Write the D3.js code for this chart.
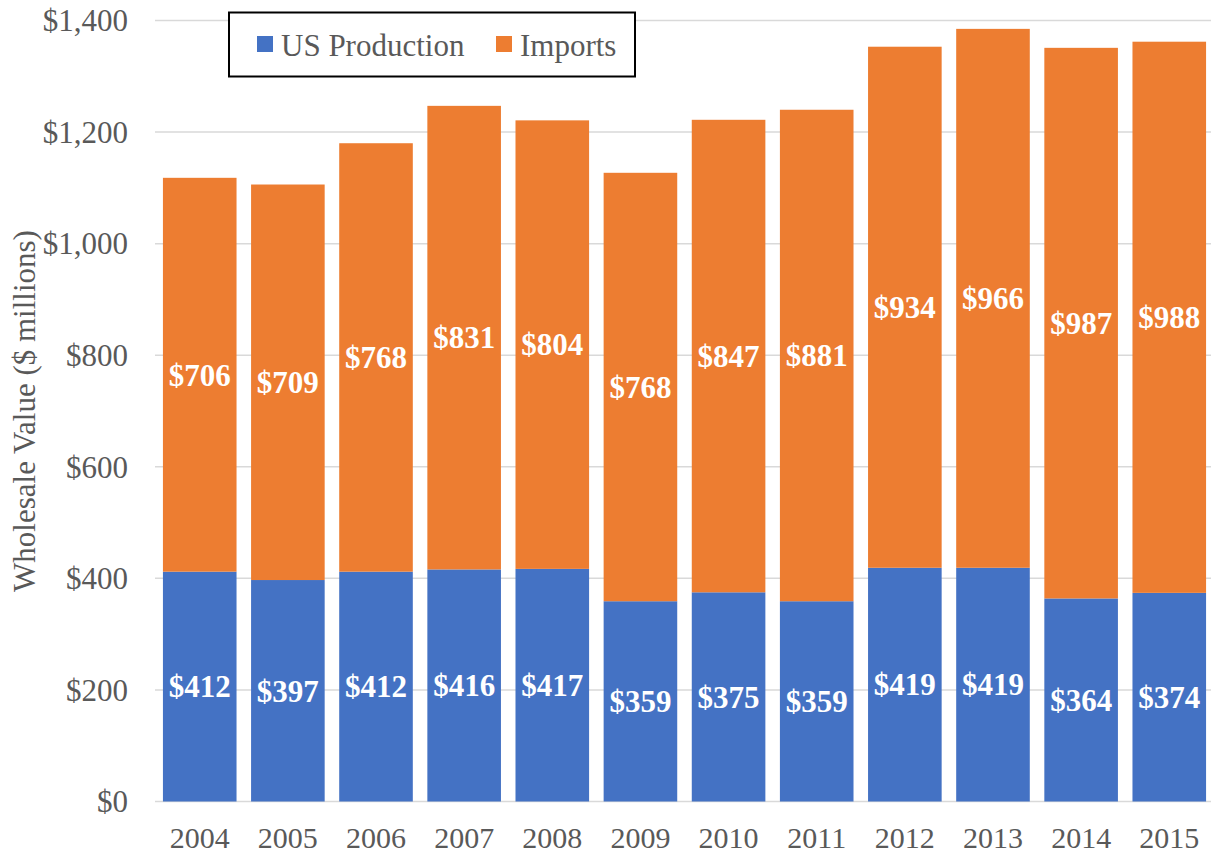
<!DOCTYPE html>
<html><head><meta charset="utf-8">
<script src="https://cdn.jsdelivr.net/npm/d3@7/dist/d3.min.js"></script>
<style>body{margin:0;background:#fff}svg{display:block}</style>
</head><body>
<svg id="c" width="1211" height="856"></svg>
<script>
const years = ["2004","2005","2006","2007","2008","2009","2010","2011","2012","2013","2014","2015"];
const usProduction = [412,397,412,416,417,359,375,359,419,419,364,374];
const imports = [706,709,768,831,804,768,847,881,934,966,987,988];
const yTicks = [0,200,400,600,800,1000,1200,1400];
const seriesNames = ["US Production","Imports"];
const colors = ["#4472C4","#ED7D31"];

const svg = d3.select("#c");
const font = "'Liberation Serif','Times New Roman',serif";
const x = d3.scaleBand().domain(years).range([155,1214]).paddingInner(0.165).paddingOuter(0.09);
const y = d3.scaleLinear().domain([0,1400]).range([801.5,20.5]);

// gridlines
svg.append("g").selectAll("line").data(yTicks).join("line")
  .attr("x1",155).attr("x2",1211).attr("y1",d=>y(d)).attr("y2",d=>y(d))
  .attr("stroke","#d9d9d9").attr("stroke-width",1.5);

// y labels
svg.append("g").selectAll("text").data(yTicks).join("text")
  .attr("x",128).attr("y",d=>y(d)).attr("dy","0.35em").attr("text-anchor","end")
  .attr("font-family",font).attr("font-size",31).attr("fill","#595959")
  .text(d=>"$"+d3.format(",")(d));

// y title
svg.append("text").attr("transform","translate(35,411) rotate(-90)")
  .attr("text-anchor","middle").attr("font-family",font).attr("font-size",31).attr("fill","#595959")
  .text("Wholesale Value ($ millions)");

const data = years.map((yr,i)=>({yr, us:usProduction[i], im:imports[i]}));
const g = svg.append("g");
g.selectAll("rect.us").data(data).join("rect").attr("class","us")
  .attr("x",d=>x(d.yr)).attr("width",x.bandwidth())
  .attr("y",d=>y(d.us)).attr("height",d=>y(0)-y(d.us)).attr("fill",colors[0]);
g.selectAll("rect.im").data(data).join("rect").attr("class","im")
  .attr("x",d=>x(d.yr)).attr("width",x.bandwidth())
  .attr("y",d=>y(d.us+d.im)).attr("height",d=>y(d.us)-y(d.us+d.im)).attr("fill",colors[1]);

// labels
g.selectAll("text.lus").data(data).join("text").attr("class","lus")
  .attr("x",d=>x(d.yr)+x.bandwidth()/2).attr("y",d=>y(d.us/2)).attr("dy","0.35em")
  .attr("text-anchor","middle").attr("font-family",font).attr("font-size",31).attr("font-weight","bold").attr("fill","#fff")
  .text(d=>"$"+d.us);
g.selectAll("text.lim").data(data).join("text").attr("class","lim")
  .attr("x",d=>x(d.yr)+x.bandwidth()/2).attr("y",d=>y(d.us+d.im/2)).attr("dy","0.35em")
  .attr("text-anchor","middle").attr("font-family",font).attr("font-size",31).attr("font-weight","bold").attr("fill","#fff")
  .text(d=>"$"+d.im);

// x labels
svg.append("g").selectAll("text").data(years).join("text")
  .attr("x",d=>x(d)+x.bandwidth()/2).attr("y",848).attr("text-anchor","middle")
  .attr("font-family",font).attr("font-size",30).attr("fill","#595959").text(d=>d);

// legend
const lg = svg.append("g");
lg.append("rect").attr("x",229).attr("y",12.5).attr("width",406).attr("height",64)
  .attr("fill","#fff").attr("stroke","#000").attr("stroke-width",2);
const lx = [257,496];
seriesNames.forEach((n,i)=>{
  lg.append("rect").attr("x",lx[i]).attr("y",36).attr("width",16).attr("height",16).attr("fill",colors[i]);
  lg.append("text").attr("x",lx[i]+24).attr("y",56).attr("font-family",font).attr("font-size",31)
    .attr("fill","#595959").text(n);
});
</script>
</body></html>
